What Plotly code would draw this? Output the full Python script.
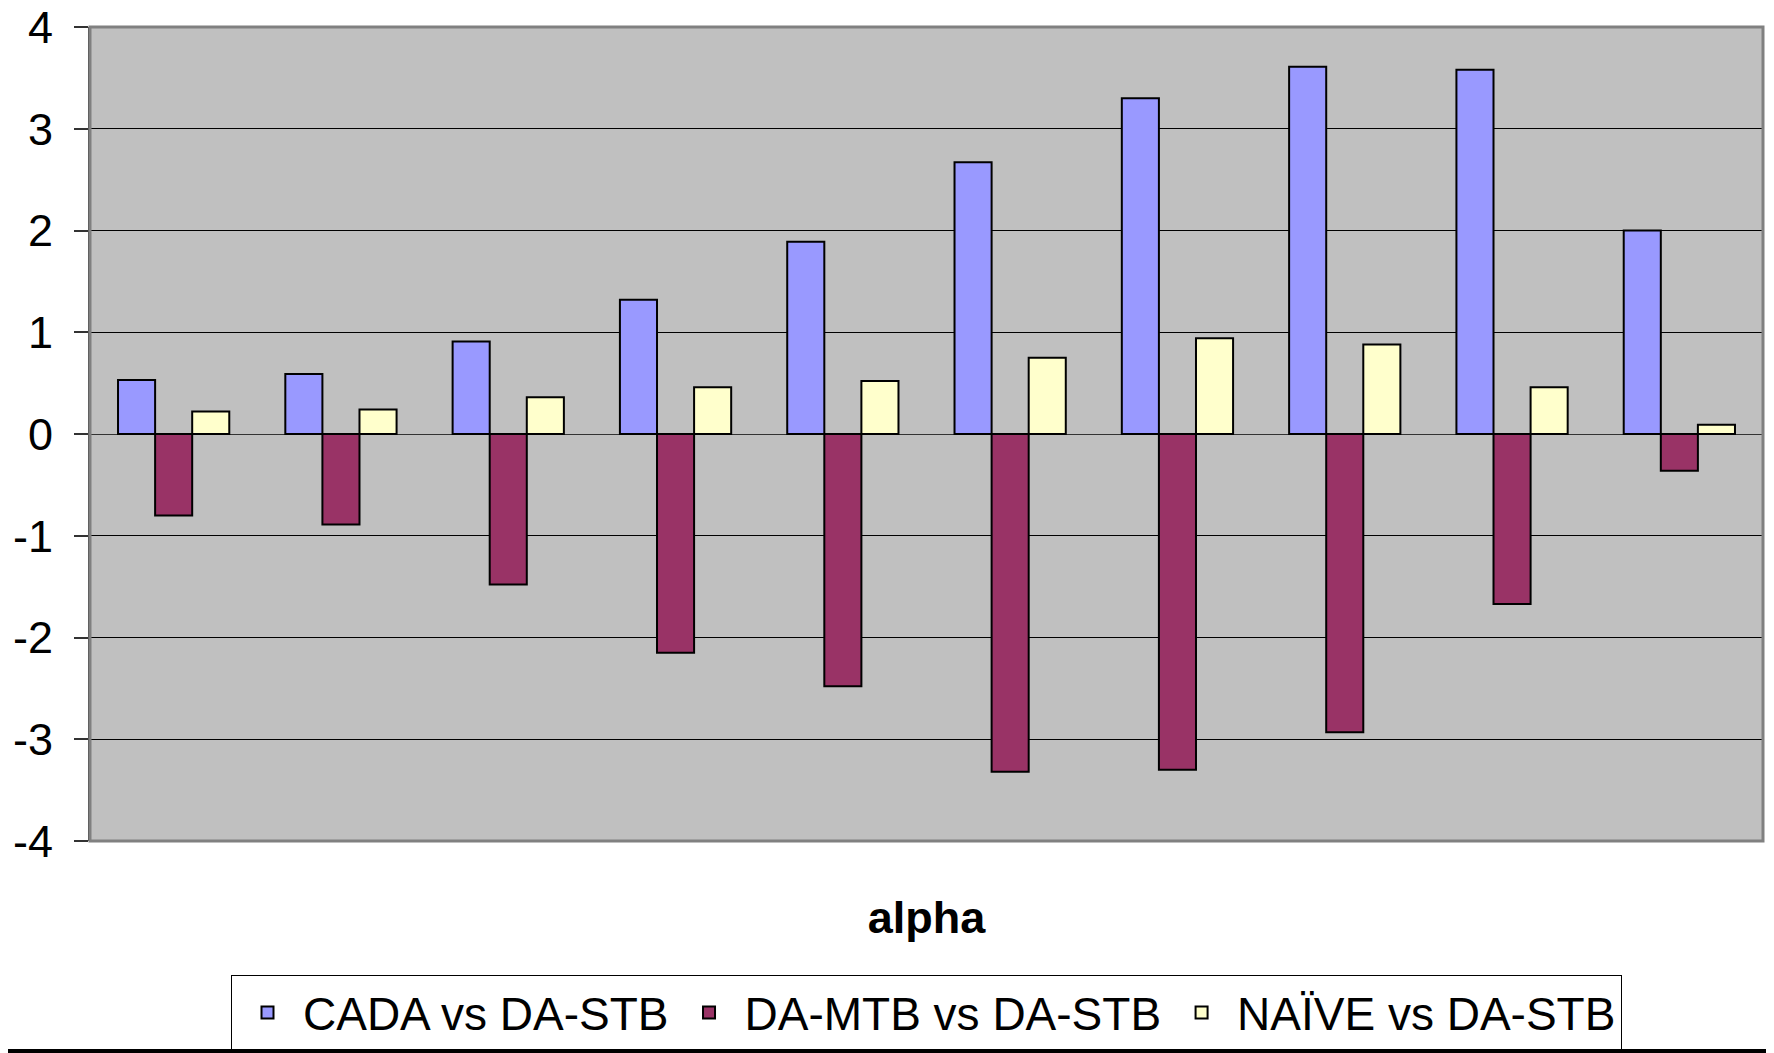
import plotly.graph_objects as go

categories = ["1", "2", "3", "4", "5", "6", "7", "8", "9", "10"]
cada_vs_dastb = [0.53, 0.59, 0.91, 1.32, 1.89, 2.67, 3.30, 3.61, 3.58, 2.00]
damtb_vs_dastb = [-0.80, -0.89, -1.48, -2.15, -2.48, -3.32, -3.30, -2.93, -1.67, -0.36]
naive_vs_dastb = [0.22, 0.24, 0.36, 0.46, 0.52, 0.75, 0.94, 0.88, 0.46, 0.09]
series_names = ["CADA vs DA-STB", "DA-MTB vs DA-STB", "NAÏVE vs DA-STB"]
series_colors = ["#9999FF", "#993366", "#FFFFCC"]
y_ticks = [-4, -3, -2, -1, 0, 1, 2, 3, 4]

FONT = "Liberation Sans, Arial, sans-serif"

fig = go.Figure()
for name, vals, col in zip(series_names, [cada_vs_dastb, damtb_vs_dastb, naive_vs_dastb], series_colors):
    fig.add_trace(go.Bar(x=categories, y=vals, name=name,
                         marker=dict(color=col, line=dict(color="black", width=2))))

fig.update_layout(
    width=1766, height=1045,
    margin=dict(l=82, r=11, t=19, b=212, autoexpand=False),
    paper_bgcolor="white", plot_bgcolor="#C0C0C0",
    barmode="group", bargap=0.335, bargroupgap=0,
    font=dict(family=FONT, size=46, color="black"),
    showlegend=True,
    legend=dict(orientation="h", x=0.5, xanchor="center", y=-0.1646, yanchor="top",
                bgcolor="white", bordercolor="black", borderwidth=1,
                font=dict(size=46), itemwidth=61, traceorder="normal"),
    xaxis=dict(showticklabels=False, ticks="", showgrid=False, zeroline=False,
               title=dict(text="<b>alpha</b>", font=dict(size=45), standoff=60)),
    yaxis=dict(range=[-4, 4], tickvals=y_ticks, ticktext=[str(v) for v in y_ticks],
               showgrid=True, gridcolor="black", gridwidth=1,
               zeroline=True, zerolinecolor="#333333", zerolinewidth=1,
               ticks="outside", ticklen=14, tickcolor="#333333", tickwidth=2,
               showline=True, linecolor="#404040", linewidth=2,
               ticklabelstandoff=12, ticklabeloverflow="allow",
               tickfont=dict(size=45)),
)

fig.add_shape(type="rect", xref="paper", yref="paper", x0=0, x1=1, y0=0, y1=1,
              line=dict(color="#808080", width=3), fillcolor="rgba(0,0,0,0)", layer="above")
fig.add_shape(type="line", xref="paper", yref="paper", x0=-0.06, x1=1.01, y0=-0.258, y1=-0.258,
              line=dict(color="black", width=4))

fig.write_html("out.html")
